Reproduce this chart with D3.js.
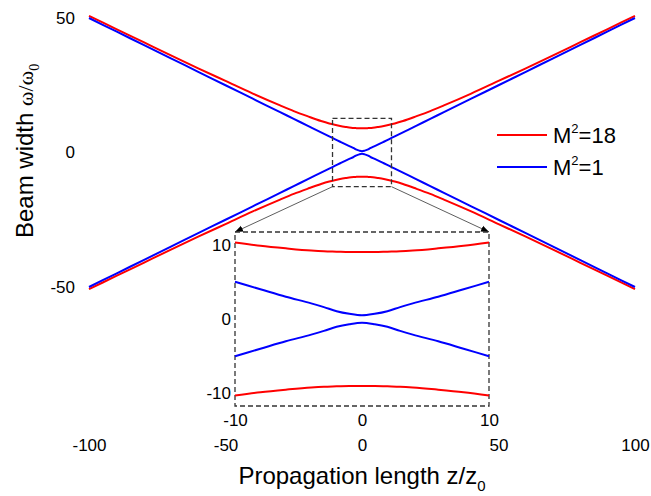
<!DOCTYPE html>
<html>
<head>
<meta charset="utf-8">
<script src="https://cdn.jsdelivr.net/npm/d3@7"></script>
<style>
  body { margin: 0; background: #fff; }
  svg { display: block; font-family: "Liberation Sans", Arial, sans-serif; }
  .tick text { font-size: 17px; fill: #000; }
</style>
</head>
<body>
<div id="chart"></div>
<script>
// Chart data
////////////////////////////////////////
// propagation length z/z0
var zValues = [-100, -90, -80, -70, -60, -50, -40, -30, -25, -20, -15, -12, -10, -8, -6, -4, -3, -2, -1, 0,
  1, 2, 3, 4, 6, 8, 10, 12, 15, 20, 25, 30, 40, 50, 60, 70, 80, 90, 100];
// upper half beam width (lower half is the mirror)
var redWidth = [50.8, 45.9, 41.0, 36.1, 31.3, 26.6, 21.9, 17.5, 15.4, 13.5, 11.7, 10.8, 10.3, 9.85, 9.5, 9.2, 9.1, 9.05, 9.0, 9.0,
  9.0, 9.05, 9.1, 9.2, 9.5, 9.85, 10.3, 10.8, 11.7, 13.5, 15.4, 17.5, 21.9, 26.6, 31.3, 36.1, 41.0, 45.9, 50.8];
var blueWidth = [50.0, 45.0, 40.0, 35.0, 30.0, 25.0, 20.0, 15.0, 12.5, 10.0, 7.5, 6.0, 5.0, 4.0, 3.0, 2.1, 1.6, 1.05, 0.7, 0.5,
  0.7, 1.05, 1.6, 2.1, 3.0, 4.0, 5.0, 6.0, 7.5, 10.0, 12.5, 15.0, 20.0, 25.0, 30.0, 35.0, 40.0, 45.0, 50.0];

var seriesNames = ["M2=18", "M2=1"];
var seriesColors = ["#ff0000", "#0000ff"];

var xTicks = [-100, -50, 0, 50, 100];
var yTicks = [-50, 0, 50];
var insetXTicks = [-10, 0, 10];
var insetYTicks = [-10, 0, 10];

// zoomed window in main-plot units
var zoomX = [-10.8, 10.8];
var zoomY = [-12.7, 12.7];

// SVG area
////////////////////////////////////////
var svgWidth = 651;
var svgHeight = 496;

var svg = d3.select("#chart")
  .append("svg")
  .attr("width", svgWidth)
  .attr("height", svgHeight);

// main scales
var xScale = d3.scaleLinear().domain([-100, 100]).range([89, 635]);
var yScale = d3.scaleLinear().domain([-50, 50]).range([287, 18]);

// inset scales
var insetX = d3.scaleLinear().domain([-10, 10]).range([235, 489]);
var insetY = d3.scaleLinear().domain([-11.7, 11.7]).range([406, 232]);

// build series (upper + mirrored lower)
function branches(widths) {
  var upper = zValues.map((z, i) => ({ z: z, w: widths[i] }));
  var lower = zValues.map((z, i) => ({ z: z, w: -widths[i] }));
  return [upper, lower];
}
var series = [branches(redWidth), branches(blueWidth)];

var defs = svg.append("defs");
defs.append("marker")
  .attr("id", "arrow")
  .attr("viewBox", "0 0 10 10")
  .attr("refX", 10)
  .attr("refY", 5)
  .attr("markerWidth", 8)
  .attr("markerHeight", 8)
  .attr("markerUnits", "userSpaceOnUse")
  .attr("orient", "auto")
  .append("path")
  .attr("d", "M0,1 L10,5 L0,9 Z")
  .attr("fill", "#000");

// Main curves
var mainLine = d3.line()
  .x(d => xScale(d.z))
  .y(d => yScale(d.w))
  .curve(d3.curveMonotoneX);

series.forEach(function(s, i) {
  s.forEach(function(branch) {
    svg.append("path")
      .datum(branch)
      .attr("d", mainLine)
      .attr("fill", "none")
      .attr("stroke", seriesColors[i])
      .attr("stroke-width", 2);
  });
});

// zoom window rectangle
svg.append("rect")
  .attr("x", xScale(zoomX[0]))
  .attr("y", yScale(zoomY[1]))
  .attr("width", xScale(zoomX[1]) - xScale(zoomX[0]))
  .attr("height", yScale(zoomY[0]) - yScale(zoomY[1]))
  .attr("fill", "none")
  .attr("stroke", "#333")
  .attr("stroke-width", 1.3)
  .attr("stroke-dasharray", "5,3");

// arrows from zoom window to inset
[[zoomX[0], insetX.range()[0]], [zoomX[1], insetX.range()[1]]].forEach(function(p) {
  svg.append("line")
    .attr("x1", xScale(p[0]))
    .attr("y1", yScale(zoomY[0]))
    .attr("x2", p[1])
    .attr("y2", insetY.range()[1])
    .attr("stroke", "#333")
    .attr("stroke-width", 0.8)
    .attr("marker-end", "url(#arrow)");
});

// Inset
var inset = svg.append("g");
inset.append("rect")
  .attr("x", insetX.range()[0])
  .attr("y", insetY.range()[1])
  .attr("width", insetX.range()[1] - insetX.range()[0])
  .attr("height", insetY.range()[0] - insetY.range()[1])
  .attr("fill", "none")
  .attr("stroke", "#333")
  .attr("stroke-width", 1.3)
  .attr("stroke-dasharray", "5,3");

var insetLine = d3.line()
  .x(d => insetX(d.z))
  .y(d => insetY(d.w))
  .curve(d3.curveMonotoneX);

series.forEach(function(s, i) {
  s.forEach(function(branch) {
    inset.append("path")
      .datum(branch.filter(d => Math.abs(d.z) <= 10))
      .attr("d", insetLine)
      .attr("fill", "none")
      .attr("stroke", seriesColors[i])
      .attr("stroke-width", 2);
  });
});

// Axes (labels only)
function bare(g) {
  g.select(".domain").remove();
  g.selectAll(".tick line").remove();
}

svg.append("g")
  .attr("transform", "translate(0, 439)")
  .call(d3.axisBottom(xScale).tickValues(xTicks).tickSize(0).tickPadding(0).tickFormat(String))
  .call(bare);

svg.append("g")
  .attr("transform", "translate(75, 0)")
  .call(d3.axisLeft(yScale).tickValues(yTicks).tickSize(0).tickPadding(0).tickFormat(String))
  .call(bare);

inset.append("g")
  .attr("transform", "translate(0, 414)")
  .call(d3.axisBottom(insetX).tickValues(insetXTicks).tickSize(0).tickPadding(0).tickFormat(String))
  .call(bare);

inset.append("g")
  .attr("transform", "translate(231, 0)")
  .call(d3.axisLeft(insetY).tickValues(insetYTicks).tickSize(0).tickPadding(0).tickFormat(String))
  .call(bare);

svg.selectAll(".tick text").attr("font-family", null);

// Axis titles
var xTitle = svg.append("text")
  .attr("x", 362)
  .attr("y", 484)
  .attr("text-anchor", "middle")
  .attr("font-size", 24)
  .text("Propagation length z/z");
xTitle.append("tspan")
  .attr("font-size", 15)
  .attr("dy", 7)
  .text("0");

var yTitle = svg.append("text")
  .attr("transform", "translate(33, 238) rotate(-90)")
  .attr("font-size", 24)
  .text("Beam width ");
yTitle.append("tspan")
  .attr("font-family", "'Liberation Serif', 'Times New Roman', serif")
  .attr("font-size", 22)
  .text("\u03c9/\u03c9");
yTitle.append("tspan")
  .attr("font-family", "'Liberation Serif', 'Times New Roman', serif")
  .attr("font-size", 14)
  .attr("dy", 6)
  .text("0");

// Legend
var legend = svg.append("g");
seriesNames.forEach(function(name, i) {
  var ly = 135 + i * 32;
  legend.append("line")
    .attr("x1", 497)
    .attr("x2", 547)
    .attr("y1", ly)
    .attr("y2", ly)
    .attr("stroke", seriesColors[i])
    .attr("stroke-width", 2);
  var t = legend.append("text")
    .attr("x", 553)
    .attr("y", ly + 8)
    .attr("font-size", 22)
    .text("M");
  t.append("tspan")
    .attr("font-size", 13)
    .attr("dy", -10)
    .text("2");
  t.append("tspan")
    .attr("dy", 10)
    .text(name.slice(2));
});
</script>
</body>
</html>
